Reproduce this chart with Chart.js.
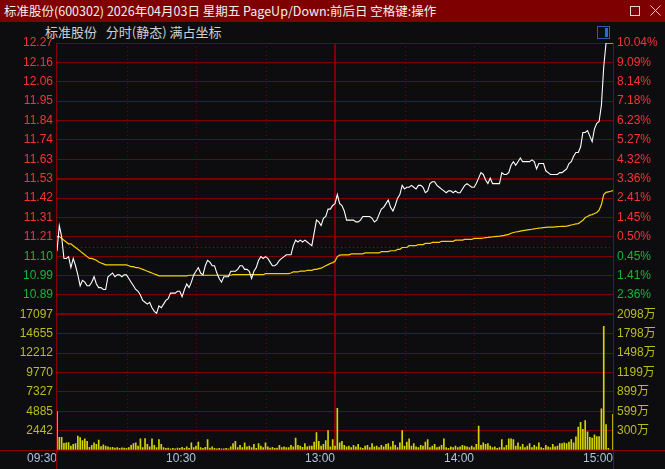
<!DOCTYPE html>
<html>
<head>
<meta charset="utf-8">
<title>标准股份 分时</title>
<script src="https://cdn.jsdelivr.net/npm/chart.js"></script>
<style>
    body {
        margin: 0;
        padding: 0;
        width: 665px;
        height: 469px;
        overflow: hidden;
        position: relative;
        background: #0d0d10;
        font-family: "Noto Sans CJK SC", sans-serif;
    }
    #title {
        position: absolute;
        left: 0;
        top: 0;
        width: 665px;
        height: 22px;
        background: #7f0000;
        color: #f0f0f0;
        font-size: 12.5px;
        line-height: 22px;
        white-space: pre;
    }
    #title .t { position: absolute; left: 4px; top: 0; }
    #title svg { position: absolute; top: 0; right: 0; }
    #sub {
        position: absolute;
        left: 45px;
        top: 23px;
        color: #d0d0d0;
        font-size: 13px;
        line-height: 18px;
        white-space: pre;
    }
    #icon {
        position: absolute;
        left: 597px;
        top: 26px;
        width: 13px;
        height: 13px;
        border: 1px solid #2c58b4;
        box-sizing: border-box;
    }
    #icon i {
        position: absolute;
        right: 1px;
        top: 1px;
        width: 3px;
        height: 9px;
        background: #2f68d8;
    }
    canvas { position: absolute; left: 0; top: 22px; }
</style>
</head>
<body>

<div id="title">
  <span class="t">标准股份(600302) 2026年04月03日 星期五 PageUp/Down:前后日 空格键:操作</span>
  <svg width="50" height="22">
    <rect x="15.5" y="6.5" width="9" height="9" fill="none" stroke="#d8d8d8"/>
    <path d="M35.5 5.5 L45.5 15.5 M45.5 5.5 L35.5 15.5" stroke="#d8d8d8"/>
  </svg>
</div>
<div id="sub">标准股份   分时(静态) 满占坐标</div>
<div id="icon"><i></i></div>

<canvas id="c" width="665" height="447"></canvas>

<script>
// ---- data ----
const prevClose = 11.15;

// price scale labels, top to bottom (left side) and % change (right side)
const priceLabels = ['12.27', '12.16', '12.06', '11.95', '11.84', '11.74', '11.63',
                     '11.53', '11.42', '11.31', '11.21', '11.10', '10.99', '10.89'];
const pctLabels = ['10.04%', '9.09%', '8.14%', '7.18%', '6.23%', '5.27%', '4.32%',
                   '3.36%', '2.41%', '1.45%', '0.50%', '0.45%', '1.41%', '2.36%'];
// volume scale labels (hands, left) and amount (right)
const volLabels = ['17097', '14655', '12212', '9770', '7327', '4885', '2442'];
const amtLabels = ['2098万', '1798万', '1498万', '1199万', '899万', '599万', '300万'];

const timeLabels = ['09:30', '10:30', '13:00', '14:00', '15:00'];
const timeTicks = [0, 60, 120, 180, 240];   // minute index of each label
const halfHours = [30, 60, 90, 150, 180, 210];
const noon = 120;

// minute prices, 09:30 .. 15:00 (241 points)
const price = [
    11.13, 11.27, 11.21, 11.09, 11.09, 11.10, 11.04, 11.09, 11.05, 11.00,  // 0
    10.94, 10.97, 10.96, 10.94, 10.94, 10.96, 10.99, 10.95, 10.93, 10.93,  // 10
    10.92, 10.92, 10.99, 11.00, 11.01, 10.99, 11.00, 11.00, 10.99, 11.00,  // 20
    11.00, 10.98, 10.96, 10.94, 10.92, 10.91, 10.89, 10.86, 10.85, 10.84,  // 30
    10.85, 10.82, 10.80, 10.79, 10.83, 10.82, 10.84, 10.86, 10.87, 10.90,  // 40
    10.90, 10.90, 10.91, 10.91, 10.88, 10.92, 10.95, 10.93, 10.96, 11.00,  // 50
    11.02, 11.04, 11.01, 11.00, 11.05, 11.08, 11.07, 11.05, 11.05, 11.01,  // 60
    10.98, 10.96, 10.99, 10.99, 10.99, 11.02, 11.02, 11.02, 11.03, 11.05,  // 70
    11.05, 11.03, 11.03, 11.02, 10.98, 11.02, 11.04, 11.08, 11.10, 11.09,  // 80
    11.10, 11.09, 11.07, 11.05, 11.05, 11.06, 11.08, 11.09, 11.10, 11.11,  // 90
    11.11, 11.11, 11.16, 11.19, 11.18, 11.19, 11.18, 11.19, 11.18, 11.17,  // 100
    11.16, 11.23, 11.30, 11.29, 11.27, 11.31, 11.32, 11.36, 11.36, 11.38,  // 110
    11.39,                                                                 // 120
    11.44, 11.39, 11.38, 11.35, 11.30, 11.30, 11.30, 11.30, 11.29, 11.29,  // 121
    11.30, 11.32, 11.32, 11.32, 11.32, 11.31, 11.29, 11.30, 11.33, 11.36,  // 131
    11.37, 11.39, 11.41, 11.37, 11.35, 11.38, 11.42, 11.44, 11.49, 11.47,  // 141
    11.48, 11.48, 11.49, 11.48, 11.47, 11.49, 11.49, 11.48, 11.45, 11.46,  // 151
    11.50, 11.51, 11.51, 11.49, 11.48, 11.47, 11.46, 11.45, 11.46, 11.46,  // 161
    11.45, 11.46, 11.45, 11.45, 11.47, 11.49, 11.50, 11.49, 11.48, 11.48,  // 171
    11.50, 11.53, 11.56, 11.55, 11.52, 11.50, 11.53, 11.50, 11.50, 11.50,  // 181
    11.50, 11.56, 11.55, 11.55, 11.56, 11.60, 11.62, 11.60, 11.62, 11.64,  // 191
    11.62, 11.62, 11.62, 11.62, 11.63, 11.62, 11.58, 11.61, 11.61, 11.61,  // 201
    11.57, 11.56, 11.55, 11.55, 11.55, 11.55, 11.56, 11.56, 11.57, 11.58,  // 211
    11.61, 11.62, 11.65, 11.67, 11.67, 11.70, 11.78, 11.78, 11.79, 11.76,  // 221
    11.73, 11.80, 11.83, 11.84, 11.93, 12.14, 12.27, 12.27, 12.27, 12.27   // 231
];

// minute average price (yellow line)
const avgPrice = [
    11.21, 11.21, 11.20, 11.19, 11.18, 11.17, 11.17, 11.16, 11.15, 11.14,  // 0
    11.13, 11.12, 11.11, 11.10, 11.09, 11.09, 11.085, 11.08, 11.07, 11.065, // 10
    11.06, 11.055, 11.055, 11.055, 11.055, 11.055, 11.055, 11.055, 11.055, 11.055, // 20
    11.055, 11.05, 11.045, 11.045, 11.04, 11.04, 11.035, 11.03, 11.025, 11.02, // 30
    11.015, 11.01, 11.005, 11.00, 10.995, 10.995, 10.995, 10.995, 10.995, 10.995, // 40
    10.995, 10.995, 10.995, 10.995, 10.995, 10.995, 10.995, 10.998, 10.998, 10.998, // 50
    10.998, 10.998, 10.998, 10.998, 10.998, 10.998, 10.998, 10.998, 10.998, 10.998, // 60
    10.998, 10.998, 10.998, 10.998, 10.998, 10.998, 11.001, 11.001, 11.001, 11.001, // 70
    11.001, 11.001, 11.001, 11.001, 11.001, 11.001, 11.001, 11.001, 11.001, 11.001, // 80
    11.007, 11.007, 11.007, 11.007, 11.007, 11.007, 11.007, 11.007, 11.007, 11.007, // 90
    11.007, 11.01, 11.016, 11.016, 11.016, 11.02, 11.02, 11.02, 11.025, 11.025, // 100
    11.025, 11.03, 11.03, 11.034, 11.037, 11.043, 11.05, 11.056, 11.062, 11.067, // 110
    11.074,                                                                 // 120
    11.10, 11.108, 11.11, 11.11, 11.11, 11.11, 11.115, 11.115, 11.115, 11.115, // 121
    11.115, 11.115, 11.12, 11.12, 11.12, 11.12, 11.12, 11.12, 11.12, 11.127, // 131
    11.127, 11.127, 11.127, 11.132, 11.132, 11.132, 11.14, 11.14, 11.15, 11.15, // 141
    11.15, 11.16, 11.16, 11.16, 11.16, 11.166, 11.166, 11.166, 11.172, 11.172, // 151
    11.172, 11.178, 11.178, 11.178, 11.178, 11.184, 11.184, 11.184, 11.184, 11.184, // 161
    11.184, 11.19, 11.19, 11.19, 11.19, 11.194, 11.194, 11.194, 11.194, 11.20, // 171
    11.20, 11.20, 11.20, 11.202, 11.204, 11.205, 11.207, 11.208, 11.21, 11.211, // 181
    11.212, 11.214, 11.216, 11.219, 11.222, 11.228, 11.232, 11.235, 11.237, 11.24, // 191
    11.242, 11.244, 11.246, 11.248, 11.25, 11.252, 11.254, 11.256, 11.257, 11.259, // 201
    11.26, 11.261, 11.262, 11.262, 11.263, 11.264, 11.265, 11.266, 11.266, 11.267, // 211
    11.27, 11.273, 11.276, 11.279, 11.281, 11.29, 11.299, 11.314, 11.32, 11.327, // 221
    11.33, 11.336, 11.342, 11.355, 11.385, 11.44, 11.452, 11.455, 11.458, 11.462 // 231
];

// minute volume (hands)
const volume = [
    4850, 1600, 1600, 850, 900, 950, 500, 700, 800, 1750,      // 0
    1550, 1200, 1400, 1100, 350, 600, 900, 700, 1250, 420,     // 10
    650, 500, 400, 300, 350, 250, 300, 200, 280, 250,          // 20
    200, 300, 600, 800, 900, 500, 1400, 300, 1450, 700,        // 30
    400, 1400, 600, 300, 1300, 700, 300, 200, 250, 150,        // 40
    200, 150, 250, 200, 350, 200, 400, 200, 900, 300,          // 50
    500, 1000, 300, 200, 350, 1300, 250, 400, 200, 150,        // 60
    200, 150, 150, 200, 150, 400, 800, 1100, 300, 600,         // 70
    300, 900, 400, 500, 300, 700, 200, 800, 500, 300,          // 80
    900, 400, 250, 350, 200, 250, 600, 300, 400, 300,          // 90
    300, 600, 400, 1500, 600, 500, 350, 800, 400, 500,         // 100
    500, 1000, 2200, 1100, 500, 700, 1200, 2450, 400, 1300,    // 110
    500,                                                       // 120
    5250, 900, 1100, 600, 400, 500, 300, 600, 400, 700,        // 121
    300, 200, 500, 600, 300, 800, 400, 500, 300, 600,          // 131
    400, 700, 800, 400, 1100, 600, 300, 900, 2450, 500,        // 141
    1000, 1400, 500, 800, 400, 300, 600, 500, 1000, 1300,      // 151
    300, 500, 700, 300, 400, 600, 1400, 300, 200, 400,         // 161
    300, 500, 300, 400, 600, 500, 400, 300, 500, 300,          // 171
    700, 3000, 600, 900, 700, 800, 500, 300, 400, 200,         // 181
    300, 1300, 300, 600, 1400, 1400, 1300, 500, 900, 400,      // 191
    700, 300, 500, 800, 300, 600, 400, 900, 300, 200,          // 201
    600, 400, 300, 700, 400, 500, 800, 800, 900, 800,          // 211
    1000, 1300, 900, 1650, 2900, 3500, 2600, 3700, 2300, 1600, // 221
    1500, 1900, 1700, 1700, 5200, 15600, 3200, 200, 0, 4500    // 231
];

// ---- look ----
const GRID = '#7c0000';
const RED = '#f53535';
const GREEN = '#18b43c';
const OLIVE = '#bcbc1c';
const TICK_FONT = { family: "'Liberation Sans', Arial", size: 12 };
const TICK_FONT_CJK = { family: "'Liberation Sans', 'Noto Sans CJK SC'", size: 12 };

const priceTop = parseFloat(priceLabels[0]);
const priceLow = parseFloat(priceLabels[priceLabels.length - 1]);
const step = (priceTop - priceLow) / (priceLabels.length - 1);
const priceMin = priceTop - priceLabels.length * step;
const volTop = parseFloat(volLabels[0]);
const volStep = volTop / volLabels.length;

function priceTickList(scale) {
    scale.ticks = priceLabels.map((_, i) => ({ value: priceTop - i * step }));
}
function volTickList(scale) {
    scale.ticks = volLabels.map((_, i) => ({ value: volTop - i * volStep }));
    scale.ticks.push({ value: 0 });
}
function upDown(ctx) {
    return ctx.tick.value > prevClose ? RED : GREEN;
}

// half-hour dotted lines, noon line, prev close line and the frame
const frame = {
    id: 'frame',
    beforeDatasetsDraw(chart) {
        const { ctx, chartArea: a, scales } = chart;
        const x = scales.x, y = scales.y;
        ctx.save();
        ctx.strokeStyle = GRID;
        ctx.lineWidth = 1;
        ctx.setLineDash([1, 3]);
        halfHours.forEach(m => {
            const px = Math.round(x.getPixelForValue(m)) + 0.5;
            ctx.beginPath();
            ctx.moveTo(px, a.top);
            ctx.lineTo(px, a.bottom);
            ctx.stroke();
        });
        const py = Math.round(y.getPixelForValue(prevClose)) + 0.5;
        ctx.strokeStyle = '#9a0000';
        ctx.setLineDash([1, 3]);
        ctx.beginPath();
        ctx.moveTo(a.left, py);
        ctx.lineTo(a.right, py);
        ctx.stroke();
        ctx.setLineDash([]);

        ctx.strokeStyle = GRID;
        ctx.lineWidth = 2;
        const nx = Math.round(x.getPixelForValue(noon));
        ctx.beginPath();
        ctx.moveTo(nx, a.top);
        ctx.lineTo(nx, a.bottom);
        ctx.stroke();

        ctx.strokeStyle = '#8a0000';
        ctx.lineWidth = 1;
        ctx.beginPath();
        ctx.moveTo(a.left - 0.5, a.top);
        ctx.lineTo(a.left - 0.5, chart.height);
        ctx.moveTo(a.right + 0.5, a.top);
        ctx.lineTo(a.right + 0.5, chart.height);
        ctx.moveTo(0, a.bottom + 0.5);
        ctx.lineTo(chart.width, a.bottom + 0.5);
        ctx.stroke();
        ctx.restore();
    }
};

const leftAxis = (extra) => Object.assign({
    position: 'left',
    stack: 'left',
    grid: { color: GRID, drawTicks: false },
    border: { display: false },
    afterFit: s => { s.width = 57; }
}, extra);
const rightAxis = (extra) => Object.assign({
    position: 'right',
    stack: 'right',
    grid: { display: false, drawTicks: false },
    border: { display: false },
    afterFit: s => { s.width = 52; }
}, extra);

// stacked axes: on the left the one defined later sits higher,
// on the right the one defined first sits higher
new Chart(document.getElementById('c'), {
    type: 'line',
    data: {
        datasets: [{
            data: price.map((p, i) => ({ x: i, y: p })),
            borderColor: '#ffffff',
            borderWidth: 1.1,
            pointRadius: 0,
            tension: 0,
            yAxisID: 'y',
            order: 1
        }, {
            data: avgPrice.map((p, i) => ({ x: i, y: p })),
            borderColor: '#f5d000',
            borderWidth: 1.2,
            pointRadius: 0,
            tension: 0,
            yAxisID: 'y',
            order: 2
        }, {
            type: 'bar',
            data: volume.map((v, i) => ({ x: i, y: v })),
            backgroundColor: '#d4d400',
            barThickness: 1,
            yAxisID: 'v',
            order: 3
        }]
    },
    options: {
        responsive: false,
        animation: false,
        devicePixelRatio: 1,
        layout: { padding: { top: 21, left: 0, right: 0, bottom: 0 } },
        plugins: { legend: { display: false }, tooltip: { enabled: false } },
        scales: {
            x: {
                type: 'linear',
                min: 0,
                max: 240,
                offset: false,
                grid: { display: false, drawTicks: false },
                border: { display: false },
                afterBuildTicks: s => { s.ticks = timeTicks.map(v => ({ value: v })); },
                afterFit: s => { s.height = 19; },
                ticks: {
                    autoSkip: false,
                    maxRotation: 0,
                    align: 'end',
                    padding: 1,
                    color: '#aec2dc',
                    font: TICK_FONT,
                    callback: (v, i) => timeLabels[i]
                }
            },
            v: leftAxis({
                stackWeight: 1,
                min: 0,
                max: volTop,
                afterBuildTicks: volTickList,
                grid: {
                    color: GRID,
                    drawTicks: false,
                    lineWidth: c => (c.index === 0 ? 2 : 1)
                },
                ticks: {
                    autoSkip: false,
                    padding: 4,
                    font: TICK_FONT,
                    color: OLIVE,
                    callback: (v, i) => volLabels[i] || ''
                }
            }),
            y: leftAxis({
                stackWeight: 2,
                min: priceMin,
                max: priceTop,
                afterBuildTicks: priceTickList,
                grid: {
                    color: GRID,
                    drawTicks: false,
                    lineWidth: c => (priceLabels[c.index] === '11.53' ? 2 : 1)
                },
                ticks: {
                    autoSkip: false,
                    padding: 4,
                    font: TICK_FONT,
                    color: upDown,
                    callback: (v, i) => priceLabels[i]
                }
            }),
            yr: rightAxis({
                stackWeight: 2,
                min: priceMin,
                max: priceTop,
                afterBuildTicks: priceTickList,
                ticks: {
                    autoSkip: false,
                    padding: 4,
                    font: TICK_FONT,
                    color: upDown,
                    callback: (v, i) => pctLabels[i]
                }
            }),
            vr: rightAxis({
                stackWeight: 1,
                min: 0,
                max: volTop,
                afterBuildTicks: volTickList,
                ticks: {
                    autoSkip: false,
                    padding: 4,
                    font: TICK_FONT_CJK,
                    color: OLIVE,
                    callback: (v, i) => amtLabels[i] || ''
                }
            })
        }
    },
    plugins: [frame]
});
</script>

</body>
</html>
